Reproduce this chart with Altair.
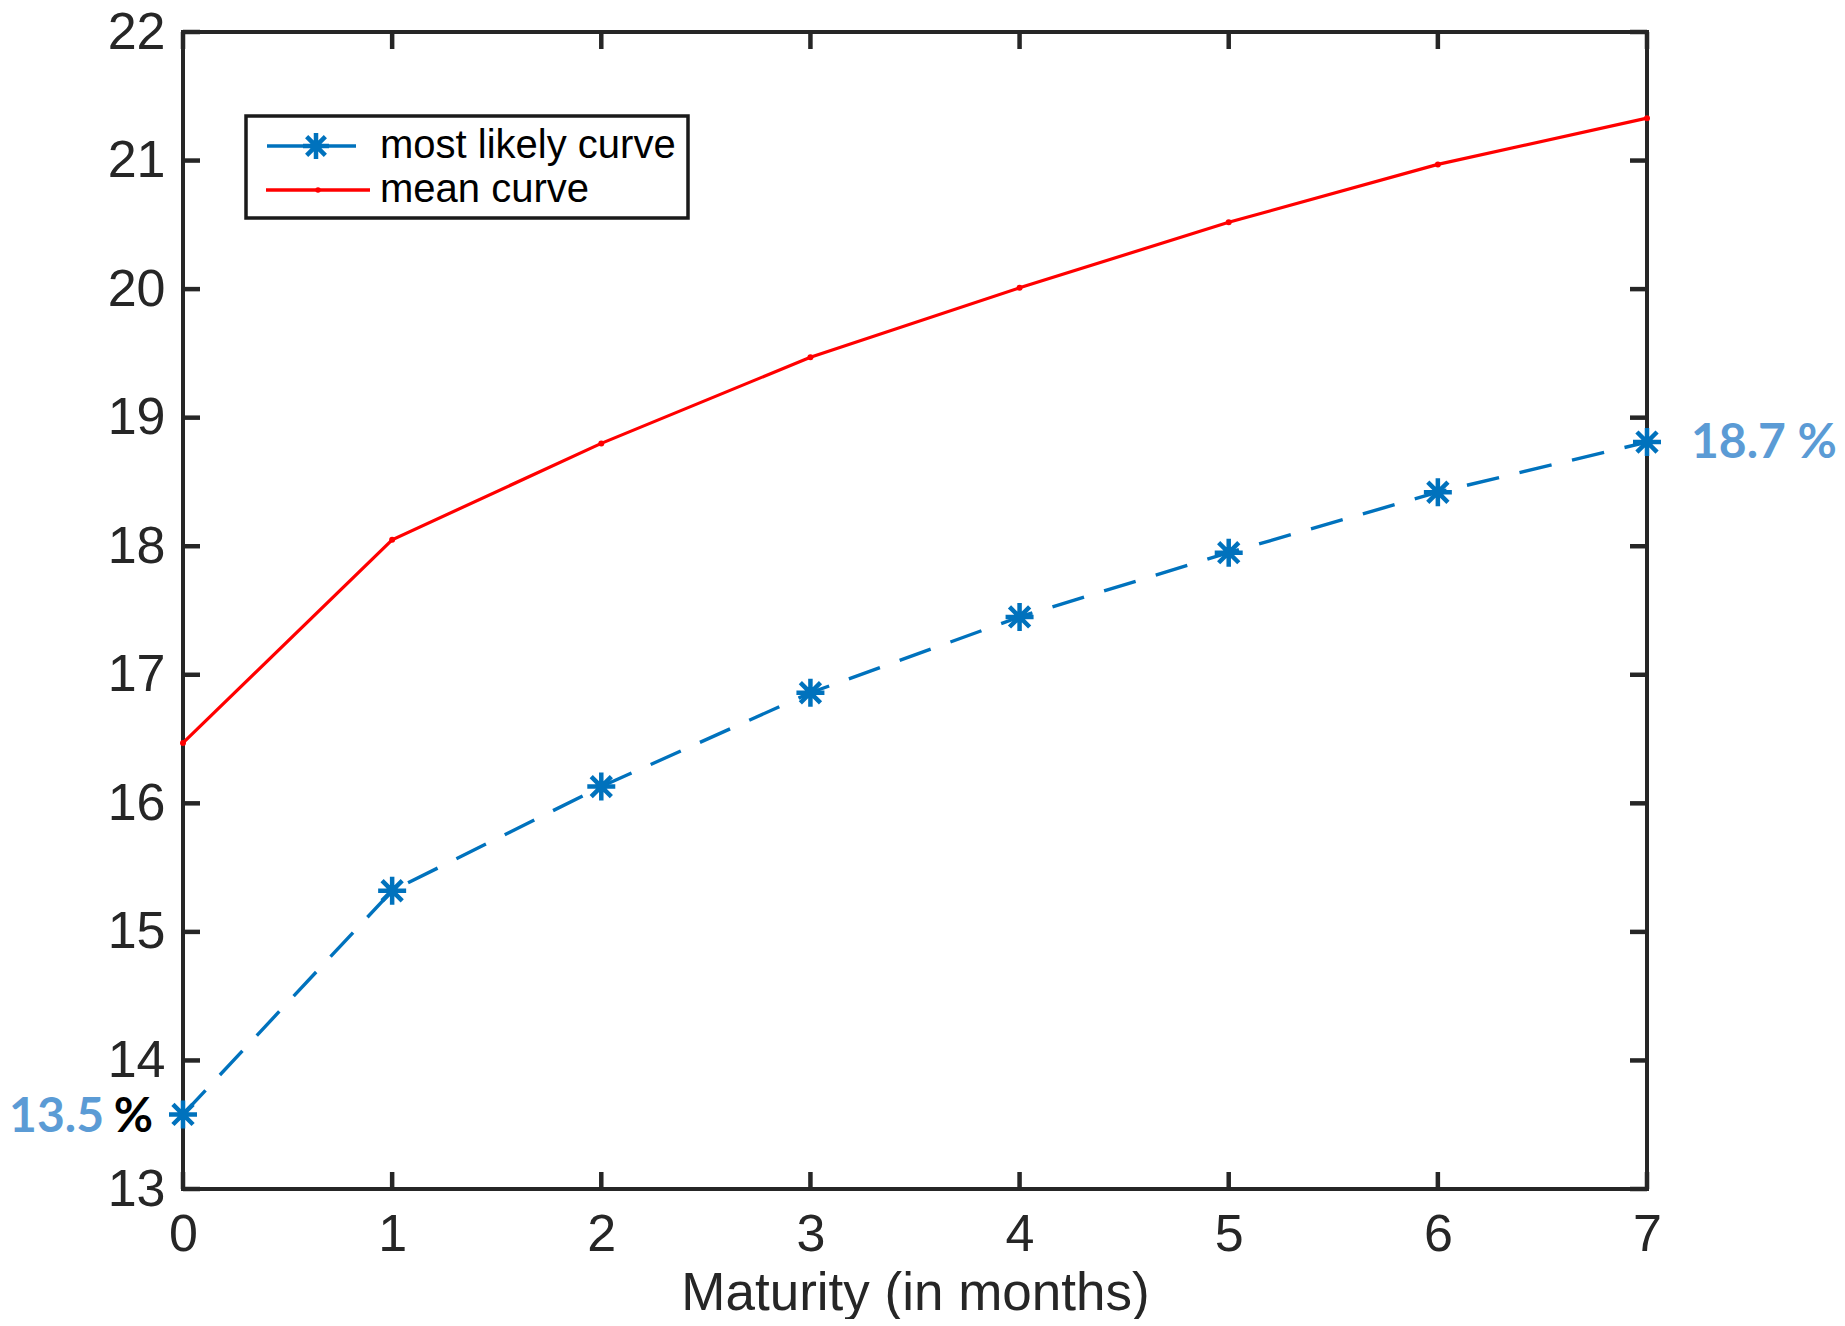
import altair as alt
import pandas as pd

# ---- data ----
maturity = [0, 1, 2, 3, 4, 5, 6, 7]
most_likely = [13.58, 15.32, 16.13, 16.86, 17.45, 17.95, 18.42, 18.81]
mean_curve = [16.47, 18.05, 18.80, 19.47, 20.01, 20.52, 20.97, 21.33]
series_names = ["most likely curve", "mean curve"]
x_ticks = [0, 1, 2, 3, 4, 5, 6, 7]
y_ticks = [13, 14, 15, 16, 17, 18, 19, 20, 21, 22]
start_label = ["13.5", "%"]
end_label = "18.7 %"

BLUE = "#0072BD"
RED = "#FF0000"
ANN = "#5B9BD5"
AX = "#262626"
FONT = "Liberation Sans"
W, H = 1464, 1157
TICK = 17

df = pd.DataFrame({
    "maturity": maturity * 2,
    "value": most_likely + mean_curve,
    "series": [series_names[0]] * len(maturity) + [series_names[1]] * len(maturity),
})
blue_df = df[df.series == series_names[0]]
red_df = df[df.series == series_names[1]]

xs = alt.Scale(domain=[0, 7], nice=False, zero=False)
ys = alt.Scale(domain=[13, 22], nice=False, zero=False)

x_enc = alt.X("maturity:Q", scale=xs, title="Maturity (in months)",
              axis=alt.Axis(values=x_ticks, format="d", domain=False, ticks=False, grid=False,
                            labelFontSize=52, labelFont=FONT, labelColor=AX, labelPadding=20,
                            titleFontSize=53, titleFont=FONT, titleColor=AX, titleFontWeight="normal",
                            titlePadding=7, labelFlush=False))
y_enc = alt.Y("value:Q", scale=ys, title=None,
              axis=alt.Axis(values=y_ticks, format="d", domain=False, ticks=False, grid=False,
                            labelFontSize=52, labelFont=FONT, labelColor=AX, labelPadding=18,
                            labelFlush=False))

STAR = "M0,-1V1M-1,0H1M-0.72,-0.72L0.72,0.72M-0.72,0.72L0.72,-0.72"

blue_line = alt.Chart(blue_df).mark_line(color=BLUE, strokeWidth=3.4, strokeDash=[33, 21]).encode(x=x_enc, y=y_enc)
blue_pts = alt.Chart(blue_df).mark_point(shape=STAR, size=784, strokeWidth=4.5, color=BLUE,
                                         filled=False, opacity=1).encode(x="maturity:Q", y="value:Q")
red_line = alt.Chart(red_df).mark_line(color=RED, strokeWidth=3.2).encode(x="maturity:Q", y="value:Q")
red_pts = alt.Chart(red_df).mark_circle(color=RED, size=36, opacity=1).encode(x="maturity:Q", y="value:Q")

# inward ticks on all four sides
xt = pd.DataFrame({"maturity": x_ticks})
yt = pd.DataFrame({"value": y_ticks})
tick_style = dict(color=AX, strokeWidth=4.5)
t_bottom = alt.Chart(xt).mark_rule(**tick_style).encode(x="maturity:Q", y=alt.value(H), y2=alt.value(H - TICK))
t_top = alt.Chart(xt).mark_rule(**tick_style).encode(x="maturity:Q", y=alt.value(0), y2=alt.value(TICK))
t_left = alt.Chart(yt).mark_rule(**tick_style).encode(y="value:Q", x=alt.value(0), x2=alt.value(TICK))
t_right = alt.Chart(yt).mark_rule(**tick_style).encode(y="value:Q", x=alt.value(W), x2=alt.value(W - TICK))

# annotations
first_pt = blue_df.iloc[[0]].assign(txt=start_label[0], pct=start_label[1])
last_pt = blue_df.iloc[[-1]].assign(txt=end_label)
ann_font = dict(font="Lato", fontSize=48, fontWeight="bold", baseline="middle")
a1 = alt.Chart(first_pt).mark_text(color=ANN, align="right", dx=-79, dy=4, **ann_font).encode(
    x="maturity:Q", y="value:Q", text="txt:N")
a2 = alt.Chart(first_pt).mark_text(color="#000000", align="right", dx=-30, dy=4, **ann_font).encode(
    x="maturity:Q", y="value:Q", text="pct:N")
a3 = alt.Chart(last_pt).mark_text(color=ANN, align="left", dx=44, dy=2, **ann_font).encode(
    x="maturity:Q", y="value:Q", text="txt:N")

# legend (drawn by hand to mimic the MATLAB legend box)
leg_box = alt.Chart(pd.DataFrame({"k": [0]})).mark_rect(fill="white", stroke="#1a1a1a", strokeWidth=3.5).encode(
    x=alt.value(63), x2=alt.value(505), y=alt.value(84), y2=alt.value(186))
leg_df = pd.DataFrame({"series": series_names})
rows = [114, 158]
leg_layers = []
leg_layers.append(alt.Chart(leg_df.iloc[[0]]).mark_rule(color=BLUE, strokeWidth=3.4).encode(
    x=alt.value(84), x2=alt.value(173), y=alt.value(rows[0])))
leg_layers.append(alt.Chart(leg_df.iloc[[0]]).mark_point(shape=STAR, size=676, strokeWidth=4.5, color=BLUE,
                                                          filled=False, opacity=1).encode(
    x=alt.value(133), y=alt.value(rows[0])))
leg_layers.append(alt.Chart(leg_df.iloc[[1]]).mark_rule(color=RED, strokeWidth=3.5).encode(
    x=alt.value(83), x2=alt.value(187), y=alt.value(rows[1])))
leg_layers.append(alt.Chart(leg_df.iloc[[1]]).mark_circle(color=RED, size=30, opacity=1).encode(
    x=alt.value(135), y=alt.value(rows[1])))
for i, r in enumerate(rows):
    leg_layers.append(alt.Chart(leg_df.iloc[[i]]).mark_text(
        align="left", baseline="middle", font=FONT, fontSize=40, color="#000000").encode(
        x=alt.value(197), y=alt.value(r), text="series:N"))

chart = alt.layer(
    blue_line, red_line, blue_pts, red_pts,
    t_bottom, t_top, t_left, t_right,
    leg_box, *leg_layers,
    a1, a2, a3,
).properties(
    width=W, height=H,
    autosize=alt.AutoSizeParams(type="none"),
    padding={"left": 175, "top": 24, "right": 190, "bottom": 130},
    background="white",
).configure_view(stroke=AX, strokeWidth=4)

chart.save("out.html", embed_options={"renderer": "svg", "actions": False})
